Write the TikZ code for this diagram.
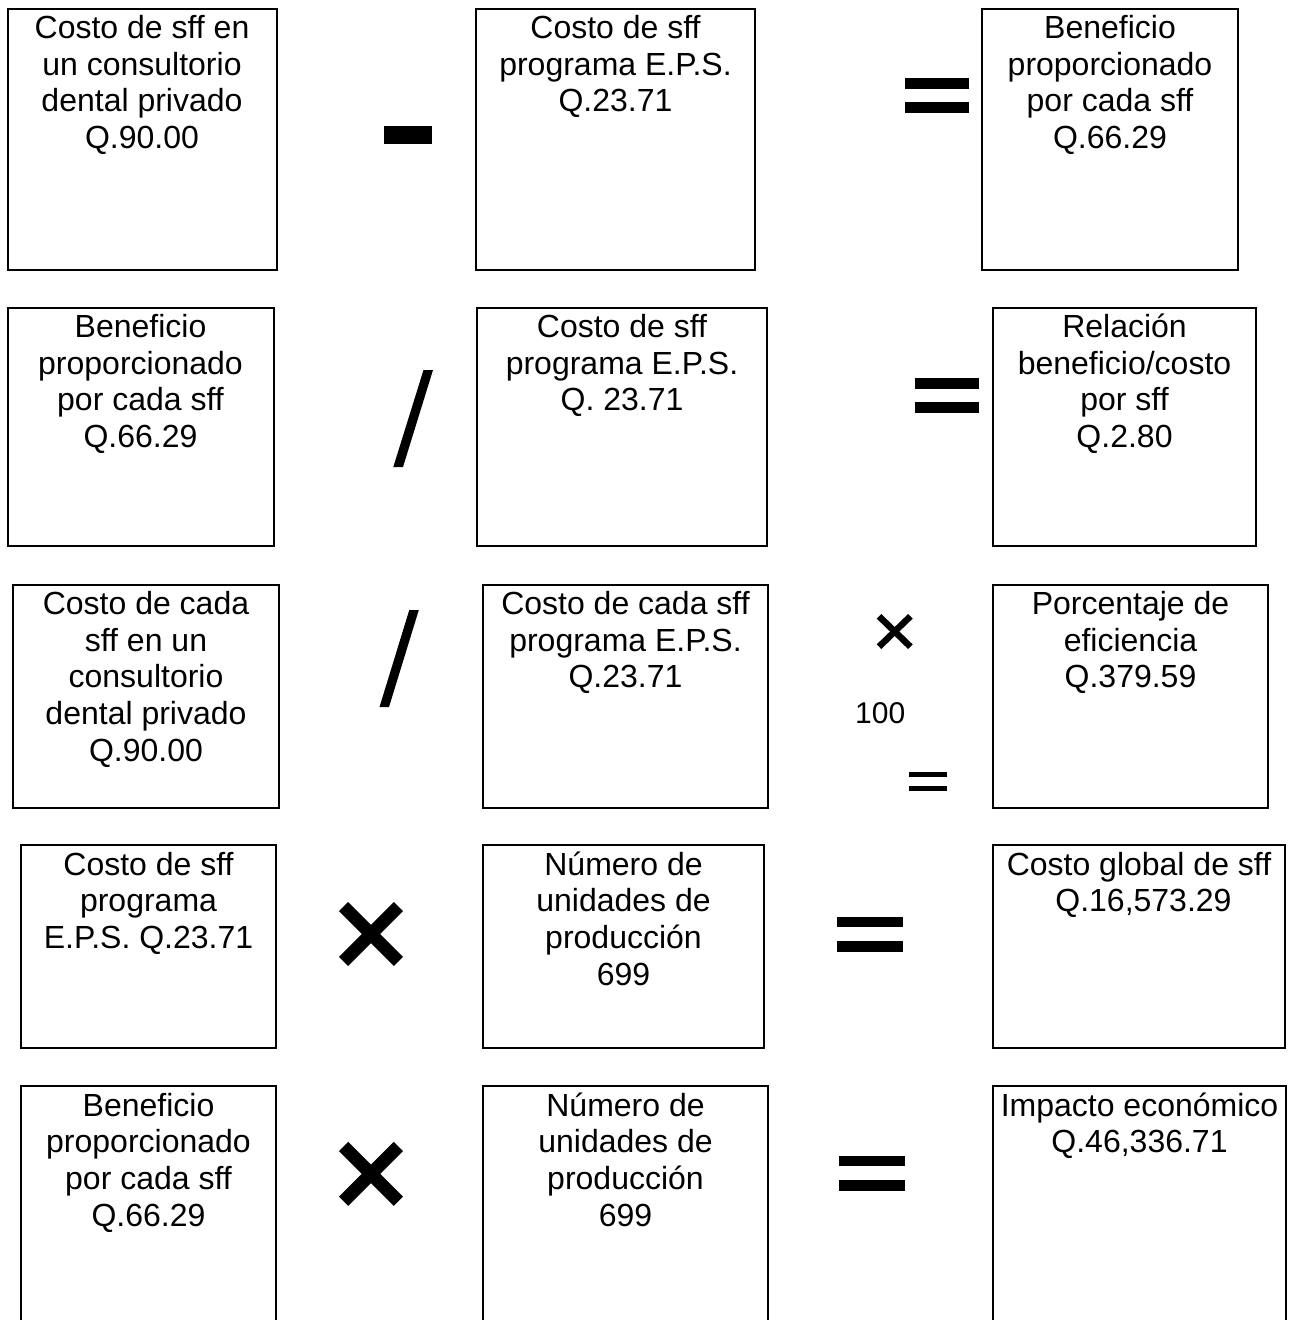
\documentclass[tikz,border=0pt]{standalone}
\usepackage{fontspec}
\setmainfont{Liberation Sans}
\tikzset{
  box/.style={draw=black, line width=2pt, rectangle, inner sep=0pt, outer sep=0pt, anchor=north west},
  txt/.style={font=\fontsize{32}{36.7}\selectfont, align=center, inner sep=0pt, outer sep=0pt, anchor=north},
  opbar/.style={fill=black},
  crossline/.style={draw=black, line cap=butt},
}
\begin{document}
\begin{tikzpicture}[x=1pt,y=-1pt]
\clip (0,0) rectangle (1292,1320);
\fill[white] (0,0) rectangle (1292,1320);
% ---------- Row 1
\node[box, minimum width=269pt, minimum height=261pt] (a1) at (7.5,8.5) {};
\node[box, minimum width=279pt, minimum height=261pt] (b1) at (476,8.5) {};
\node[box, minimum width=256pt, minimum height=261pt] (c1) at (982,8.5) {};
\node[txt] (a1t) at ([yshift=-4.3pt]a1.north) {\strut Costo de sff en\\un consultorio\\dental privado\\Q.90.00};
\node[txt] (b1t) at ([yshift=-4.3pt]b1.north) {\strut Costo de sff\\programa E.P.S.\\Q.23.71};
\node[txt] (c1t) at ([yshift=-4.3pt]c1.north) {\strut Beneficio\\proporcionado\\por cada sff\\Q.66.29};
\fill[opbar] (384,126) rectangle (432,144);
\fill[opbar] (904.5,78) rectangle (969,89);
\fill[opbar] (904.5,102) rectangle (969,113);
% ---------- Row 2
\node[box, minimum width=266pt, minimum height=238pt] (a2) at (7.5,307.5) {};
\node[box, minimum width=290pt, minimum height=238pt] (b2) at (477,307.5) {};
\node[box, minimum width=263pt, minimum height=238pt] (c2) at (993,307.5) {};
\node[txt] (a2t) at ([yshift=-4.3pt]a2.north) {\strut Beneficio\\proporcionado\\por cada sff\\Q.66.29};
\node[txt] (b2t) at ([yshift=-4.3pt]b2.north) {\strut Costo de sff\\programa E.P.S.\\Q. 23.71};
\node[txt] (c2t) at ([yshift=-4.3pt]c2.north) {\strut Relación\\beneficio/costo\\por sff\\Q.2.80};
\fill[opbar] (423.5,370) -- (433,370) -- (403,467) -- (393.3,467) -- cycle;
\fill[opbar] (915,378) rectangle (979,389);
\fill[opbar] (915,402) rectangle (979,413);
% ---------- Row 3
\node[box, minimum width=266pt, minimum height=223pt] (a3) at (13,584.5) {};
\node[box, minimum width=285pt, minimum height=223pt] (b3) at (483,584.5) {};
\node[box, minimum width=275pt, minimum height=223pt] (c3) at (993,584.5) {};
\node[txt] (a3t) at ([yshift=-4.3pt]a3.north) {\strut Costo de cada\\sff en un\\consultorio\\dental privado\\Q.90.00};
\node[txt] (b3t) at ([yshift=-4.3pt]b3.north) {\strut Costo de cada sff\\programa E.P.S.\\Q.23.71};
\node[txt] (c3t) at ([yshift=-4.3pt]c3.north) {\strut Porcentaje de\\eficiencia\\Q.379.59};
\fill[opbar] (409.3,610) -- (418.8,610) -- (389,707) -- (379.5,707) -- cycle;
\draw[crossline, line width=6.5pt] (879,616.3) -- (910.4,646.7);
\draw[crossline, line width=6.5pt] (879,646.7) -- (910.4,616.3);
\node[font=\fontsize{30}{36}\selectfont, anchor=base west, inner sep=0pt] (hundred) at (855,723) {100};
\fill[opbar] (909,771.5) rectangle (947,777);
\fill[opbar] (909,785.5) rectangle (947,791);
% ---------- Row 4
\node[box, minimum width=255pt, minimum height=203pt] (a4) at (21,845) {};
\node[box, minimum width=281pt, minimum height=203pt] (b4) at (483,845) {};
\node[box, minimum width=292pt, minimum height=203pt] (c4) at (993,845) {};
\node[txt] (a4t) at ([yshift=-4.3pt]a4.north) {\strut Costo de sff\\programa\\E.P.S. Q.23.71};
\node[txt] (b4t) at ([yshift=-4.3pt]b4.north) {\strut Número de\\unidades de\\producción\\699};
\node[txt] (c4t) at ([yshift=-4.3pt]c4.north) {\strut Costo global de sff\\\ Q.16,573.29};
\draw[crossline, line width=13pt] (343.6,906.6) -- (398.4,961.4);
\draw[crossline, line width=13pt] (343.6,961.4) -- (398.4,906.6);
\fill[opbar] (837,917) rectangle (903,927);
\fill[opbar] (837,941) rectangle (903,952);
% ---------- Row 5
\node[box, minimum width=255pt, minimum height=260pt] (a5) at (21,1086) {};
\node[box, minimum width=285pt, minimum height=260pt] (b5) at (483,1086) {};
\node[box, minimum width=293pt, minimum height=260pt] (c5) at (993,1086) {};
\node[txt] (a5t) at ([yshift=-4.3pt]a5.north) {\strut Beneficio\\proporcionado\\por cada sff\\Q.66.29};
\node[txt] (b5t) at ([yshift=-4.3pt]b5.north) {\strut Número de\\unidades de\\producción\\699};
\node[txt] (c5t) at ([yshift=-4.3pt]c5.north) {\strut Impacto económico\\Q.46,336.71};
\draw[crossline, line width=13pt] (343.6,1146.5) -- (398.4,1201.3);
\draw[crossline, line width=13pt] (343.6,1201.3) -- (398.4,1146.5);
\fill[opbar] (839,1156) rectangle (904.5,1166);
\fill[opbar] (839,1180) rectangle (904.5,1191);
\end{tikzpicture}
\end{document}
